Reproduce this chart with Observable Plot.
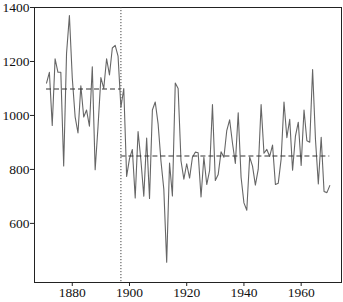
<!DOCTYPE html>
<html><head><meta charset="utf-8">
<script src="https://cdn.jsdelivr.net/npm/d3@7"></script>
<script src="https://cdn.jsdelivr.net/npm/@observablehq/plot@0.6"></script>
<style>body{margin:0;background:#fff}</style>
</head><body><div id="chart"></div>
<script>
const startYear = 1871;
const flow = [1120,1160,963,1210,1160,1160,813,1230,1370,1140,995,935,1110,994,1020,960,1180,799,958,1140,1100,1210,1150,1250,1260,1220,1030,1100,774,840,874,694,940,833,701,916,692,1020,1050,969,831,726,456,824,702,1120,1100,832,764,821,768,845,864,862,698,845,744,796,1040,759,781,865,845,944,984,897,822,1010,771,676,649,846,812,742,801,1040,860,874,848,890,744,749,838,1050,918,986,797,923,975,815,1020,906,901,1170,912,746,919,718,714,740];
const changeYear = 1897;
const meanBefore = 1097.75;
const meanAfter = 849.97;
const xTicks = [1880,1900,1920,1940,1960];
const yTicks = [600,800,1000,1200,1400];

const series = flow.map((v,i)=>({year:startYear+i, value:v}));
const lastYear = startYear + flow.length - 1;

const chart = Plot.plot({
  width: 343, height: 302,
  marginLeft: 34, marginRight: 2, marginTop: 7, marginBottom: 20,
  style: {fontFamily: "'Liberation Serif', serif", fontSize: "13.5px", color: "#111", background: "#fff"},
  x: {domain: [1866.8, 1974.1], label: null},
  y: {domain: [381, 1400], label: null},
  marks: [
    Plot.frame({stroke: "#222", strokeWidth: 1}),
    Plot.ruleX([changeYear], {stroke: "#444", strokeDasharray: "1.2,1.8", strokeWidth: 1}),
    Plot.lineY(series, {x: "year", y: "value", stroke: "#666", strokeWidth: 1.1}),
    Plot.ruleY([meanBefore], {x1: startYear, x2: changeYear, stroke: "#333", strokeDasharray: "5,3", strokeWidth: 1.1}),
    Plot.ruleY([meanAfter], {x1: changeYear, x2: lastYear, stroke: "#333", strokeDasharray: "5,3", strokeWidth: 1.1}),
    Plot.axisX({ticks: xTicks, tickFormat: d => String(d), tickSize: 4, tickPadding: 1, label: null, stroke: "#222"}),
    Plot.axisY({ticks: yTicks, tickFormat: d => String(d), tickSize: 4, tickPadding: 1, label: null, stroke: "#222"})
  ]
});
document.getElementById("chart").appendChild(chart);
</script>
</body></html>
